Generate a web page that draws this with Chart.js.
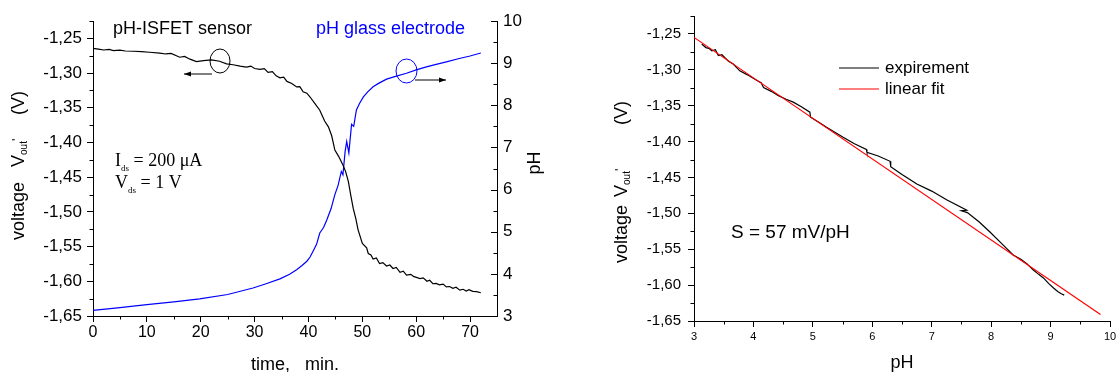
<!DOCTYPE html>
<html>
<head>
<meta charset="utf-8">
<script src="https://cdn.jsdelivr.net/npm/chart.js@4/dist/chart.umd.min.js"></script>
<style>
  body { margin: 0; background: #fff; width: 1116px; height: 372px; overflow: hidden; position: relative; }
  #timeChart { position: absolute; left: 0; top: 0; }
  #phChart { position: absolute; left: 556px; top: 0; }
</style>
</head>
<body>
<canvas id="timeChart" width="556" height="372"></canvas>
<canvas id="phChart" width="564" height="372"></canvas>
<script>
// --- data ---

// left panel: ISFET output voltage vs time
const isfetTime = [0, 1, 2, 3, 3.8, 5, 6, 7.5, 9, 10.5, 12.4, 13.5, 14.5, 16.1, 17, 18, 19.2, 20.5, 22, 23.5,
  24.8, 26, 27.3, 28.5, 29.3, 30, 31, 31.8, 32.5, 33.3, 34, 34.7, 35.4, 36, 36.9, 37.8, 38.4, 39, 39.7, 40.3,
  41.2, 42.1, 43, 43.7, 44.3, 44.9, 45.6, 46.4, 46.9, 47.4, 47.9, 48.3, 48.8, 49.2, 50.0, 50.8, 51.1,
  51.6, 52, 52.6, 53.2, 53.8, 54.5, 55.1, 55.7, 56.3, 57, 57.6, 58.2, 59, 59.5, 60.7, 61.3, 62, 62.5,
  63.1, 63.7, 64.3, 65, 65.6, 66.2, 66.8, 67.4, 68.1, 68.7, 69.3, 69.8, 70.5, 71.2, 72];
const isfetVolt = [-1.2643, -1.2655, -1.2668, -1.2660, -1.2676, -1.2670, -1.2682, -1.2686, -1.2692, -1.2700,
  -1.2712, -1.2725, -1.2718, -1.2772, -1.2760, -1.2800, -1.2834, -1.2820, -1.2810, -1.2830,
  -1.2867, -1.2880, -1.2900, -1.2915, -1.2900, -1.2935, -1.2948, -1.2935, -1.2990, -1.2980,
  -1.3040, -1.3068, -1.3060, -1.3120, -1.3150, -1.3200, -1.3195, -1.3270, -1.3290, -1.3345,
  -1.3440, -1.3536, -1.3690, -1.3775, -1.3900, -1.4110, -1.4200, -1.4325, -1.4420, -1.4560,
  -1.4780, -1.4946, -1.5100, -1.5255, -1.5455, -1.5517, -1.5600,
  -1.5620, -1.5680, -1.5665, -1.5743, -1.5730, -1.5780, -1.5765, -1.5815, -1.5800, -1.5870, -1.5855,
  -1.5910, -1.5900, -1.5930, -1.5960, -1.5950, -1.6000, -1.5985, -1.6035, -1.6030, -1.6050, -1.6040,
  -1.6080, -1.6075, -1.6100, -1.6085, -1.6127, -1.6115, -1.6140, -1.6120, -1.6145, -1.6150, -1.6165];

// left panel: glass electrode pH vs time
const glassTime = [0, 5, 10, 15, 19.8, 25, 29.7, 32, 34.7, 36.5, 37.8, 38.8, 39.7, 40.3, 40.9, 41.5, 42.1,
  42.8, 43.4, 44.2, 44.9, 45.5, 46.1, 46.4, 46.8, 47.1, 47.5, 48.0, 48.4, 48.9, 49.5, 50.2, 51, 52, 53,
  54.5, 56, 58.2, 60, 61.9, 63.7, 65.6, 68, 70, 72];
const glassPH = [3.135, 3.20, 3.27, 3.335, 3.405, 3.51, 3.665, 3.76, 3.88, 3.99, 4.10, 4.20, 4.30, 4.40,
  4.55, 4.70, 4.97, 5.10, 5.28, 5.55, 5.88, 6.10, 6.43, 6.35, 6.90, 7.14, 6.87, 7.55, 7.50, 7.89, 8.05,
  8.20, 8.32, 8.44, 8.52, 8.62, 8.68, 8.76, 8.84, 8.91, 8.97, 9.03, 9.11, 9.17, 9.24];

// right panel: voltage vs pH (experiment) and linear fit
const expPH = [3.13, 3.20, 3.25, 3.30, 3.36, 3.41, 3.47, 3.52, 3.58, 3.66, 3.77, 3.90, 4.06, 4.13, 4.17,
  4.30, 4.42, 4.55, 4.67, 4.80, 4.95, 4.96, 5.10, 5.23, 5.37, 5.51, 5.70, 5.90, 5.91, 6.10, 6.30, 6.31,
  6.50, 6.75, 7.00, 7.25, 7.59, 7.50, 7.60, 7.80, 7.98, 8.20, 8.37, 8.50, 8.60, 8.71, 8.80, 8.88, 8.97,
  9.05, 9.12, 9.18, 9.23];
const expVolt = [-1.2640, -1.2690, -1.2700, -1.2734, -1.2720, -1.2800, -1.2790, -1.2830, -1.2880, -1.2920,
  -1.3014, -1.3070, -1.3150, -1.3180, -1.3246, -1.3300, -1.3360, -1.3410, -1.3450, -1.3510, -1.3590,
  -1.3660, -1.3730, -1.3800, -1.3870, -1.3940, -1.4030, -1.4110, -1.4150, -1.4200, -1.4275, -1.4350,
  -1.4460, -1.4590, -1.4690, -1.4810, -1.4955, -1.4965, -1.4990, -1.5120, -1.5260, -1.5440, -1.5580,
  -1.5640, -1.5700, -1.5790, -1.5850, -1.5900, -1.5980, -1.6040, -1.6090, -1.6120, -1.6140];
const fitPH = [3, 9.84];
const fitVolt = [-1.2548, -1.6410];

// axis ticks
const timeTicks = [0, 10, 20, 30, 40, 50, 60, 70];
const voltTicks = [-1.65, -1.60, -1.55, -1.50, -1.45, -1.40, -1.35, -1.30, -1.25];
const phTicks = [3, 4, 5, 6, 7, 8, 9, 10];

const SANS = "'Liberation Sans', Arial, sans-serif";
const SERIF = "'Liberation Serif', 'Times New Roman', serif";

function points(xs, ys) {
  return xs.map((x, i) => ({ x: x, y: ys[i] }));
}
function commaLabel(v) {
  return v.toFixed(2).replace('.', ',');
}
function minorOf(majors, max) {
  const half = (majors[1] - majors[0]) / 2;
  return majors.map(m => m + half).filter(v => v <= max + 1e-9);
}

// extra tick marks the library can't do itself (minor ticks, inward ticks)
// dir 1 = outward, -1 = into the plot
function drawTicks(chart, list) {
  const ctx = chart.ctx;
  const area = chart.chartArea;
  ctx.save();
  ctx.strokeStyle = '#000';
  ctx.lineWidth = 1;
  ctx.beginPath();
  list.forEach(a => {
    const scale = chart.scales[a.id];
    a.values.forEach(v => {
      const p = Math.round(scale.getPixelForValue(v)) + 0.5;
      const len = a.len * a.dir;
      if (a.side === 'bottom') {
        ctx.moveTo(p, area.bottom);
        ctx.lineTo(p, area.bottom + len);
      } else if (a.side === 'left') {
        ctx.moveTo(area.left, p);
        ctx.lineTo(area.left - len, p);
      } else {
        ctx.moveTo(area.right, p);
        ctx.lineTo(area.right + len, p);
      }
    });
  });
  ctx.stroke();
  ctx.restore();
}

// text with subscript pieces, drawn left to right
function richText(ctx, x, y, parts) {
  let cx = x;
  for (const p of parts) {
    ctx.font = p.font;
    ctx.fillText(p.t, cx, y + (p.dy || 0));
    cx += ctx.measureText(p.t).width;
  }
}

function arrow(ctx, x1, x2, y) {
  ctx.beginPath();
  ctx.moveTo(x1, y);
  ctx.lineTo(x2, y);
  ctx.stroke();
  const d = x2 > x1 ? 1 : -1;
  ctx.beginPath();
  ctx.moveTo(x2, y);
  ctx.lineTo(x2 - 7 * d, y - 2.5);
  ctx.lineTo(x2 - 7 * d, y + 2.5);
  ctx.closePath();
  ctx.fill();
}

function voltageTitle(ctx, x, y, gapV, gapParen) {
  ctx.save();
  ctx.translate(x, y);
  ctx.rotate(-Math.PI / 2);
  ctx.fillStyle = '#000';
  ctx.textBaseline = 'middle';
  ctx.font = '18px ' + SANS;
  ctx.fillText('voltage', 0, 0);
  richText(ctx, gapV, 0, [
    { t: 'V', font: '18px ' + SANS },
    { t: 'out', font: '10px ' + SANS, dy: 5 },
    { t: "'", font: '13px ' + SANS, dy: -2 }
  ]);
  ctx.font = '18px ' + SANS;
  ctx.fillText('(V)', gapParen, 0);
  ctx.restore();
}

const timeNotes = {
  id: 'timeNotes',
  afterDraw(chart) {
    drawTicks(chart, [
      { id: 'x', side: 'bottom', values: minorOf(timeTicks, 70), len: 3.5, dir: 1 },
      { id: 'y', side: 'left', values: minorOf(voltTicks, -1.225), len: 3.5, dir: 1 },
      { id: 'y1', side: 'right', values: phTicks, len: 6, dir: -1 },
      { id: 'y1', side: 'right', values: minorOf(phTicks, 10), len: 3.5, dir: -1 }
    ]);

    const ctx = chart.ctx;
    ctx.save();
    ctx.textBaseline = 'middle';
    ctx.font = '18px ' + SANS;
    ctx.fillStyle = '#000';
    ctx.fillText('pH-ISFET sensor', 113, 29);
    ctx.fillStyle = '#0000ff';
    ctx.fillText('pH glass electrode', 316, 29);

    ctx.textBaseline = 'alphabetic';
    ctx.fillStyle = '#000';
    richText(ctx, 115, 166, [
      { t: 'I', font: '18px ' + SERIF },
      { t: 'ds', font: '9px ' + SERIF, dy: 5 },
      { t: ' = 200 \u03bcA', font: '18px ' + SERIF }
    ]);
    richText(ctx, 115, 188, [
      { t: 'V', font: '18px ' + SERIF },
      { t: 'ds', font: '9px ' + SERIF, dy: 5 },
      { t: ' = 1 V', font: '18px ' + SERIF }
    ]);

    ctx.lineWidth = 1;
    ctx.strokeStyle = '#000';
    ctx.beginPath();
    ctx.ellipse(220, 61, 10, 12, 0, 0, Math.PI * 2);
    ctx.stroke();
    arrow(ctx, 212, 184, 74);
    ctx.strokeStyle = '#0000ff';
    ctx.beginPath();
    ctx.ellipse(406.5, 71, 10.5, 12, 0, 0, Math.PI * 2);
    ctx.stroke();
    ctx.strokeStyle = '#000';
    arrow(ctx, 415, 446, 80);

    ctx.font = '18px ' + SANS;
    ctx.textAlign = 'center';
    ctx.fillText('time,   min.', 295, 370);
    ctx.restore();

    voltageTitle(ctx, 19, 240, 73, 125);

    ctx.save();
    ctx.translate(535, 163);
    ctx.rotate(-Math.PI / 2);
    ctx.textAlign = 'center';
    ctx.textBaseline = 'middle';
    ctx.font = '18px ' + SANS;
    ctx.fillStyle = '#000';
    ctx.fillText('pH', 0, 0);
    ctx.restore();
  }
};

const phNotes = {
  id: 'phNotes',
  afterDraw(chart) {
    drawTicks(chart, [
      { id: 'x', side: 'bottom', values: minorOf(phTicks, 10), len: 3.5, dir: 1 },
      { id: 'y', side: 'left', values: minorOf(voltTicks, -1.225), len: 3.5, dir: 1 }
    ]);

    const ctx = chart.ctx;
    ctx.save();
    ctx.lineWidth = 1.2;
    ctx.strokeStyle = '#000';
    ctx.beginPath(); ctx.moveTo(283, 68); ctx.lineTo(323, 68); ctx.stroke();
    ctx.strokeStyle = '#ff0000';
    ctx.beginPath(); ctx.moveTo(283, 89); ctx.lineTo(323, 89); ctx.stroke();
    ctx.fillStyle = '#000';
    ctx.textBaseline = 'middle';
    ctx.font = '17px ' + SANS;
    ctx.fillText('expirement', 329, 68);
    ctx.fillText('linear fit', 329, 89);
    ctx.font = '19px ' + SANS;
    ctx.fillText('S = 57 mV/pH', 175, 233);
    ctx.font = '18px ' + SANS;
    ctx.textAlign = 'center';
    ctx.textBaseline = 'alphabetic';
    ctx.fillText('pH', 346, 368);
    ctx.restore();

    voltageTitle(ctx, 66, 263, 66, 138);
  }
};

// major ticks come from the library (grid drawn only outside the plot area)
function linearAxis(opts) {
  return {
    type: 'linear',
    position: opts.position,
    min: opts.min,
    max: opts.max,
    grid: opts.inward
      ? { display: false, drawTicks: false }
      : { display: true, drawOnChartArea: false, drawTicks: true, tickLength: 6, color: '#000', tickColor: '#000', lineWidth: 1 },
    border: { display: true, color: '#000', width: 1 },
    afterBuildTicks: s => { s.ticks = opts.ticks.map(v => ({ value: v })); },
    afterFit: s => { if (opts.width) s.width = opts.width; if (opts.height) s.height = opts.height; },
    ticks: {
      color: '#000',
      padding: opts.padding,
      maxRotation: 0,
      autoSkip: false,
      font: { family: SANS, size: opts.size },
      callback: opts.format || (v => String(v))
    }
  };
}

new Chart(document.getElementById('timeChart'), {
  type: 'scatter',
  data: {
    datasets: [
      { data: points(isfetTime, isfetVolt), yAxisID: 'y', borderColor: '#000', borderWidth: 1.2 },
      { data: points(glassTime, glassPH), yAxisID: 'y1', borderColor: '#0000ff', borderWidth: 1.2 }
    ]
  },
  options: {
    responsive: false,
    animation: false,
    devicePixelRatio: 1,
    showLine: true,
    elements: { point: { radius: 0 }, line: { tension: 0 } },
    layout: { padding: { top: 21, left: 0, right: 0, bottom: 0 } },
    plugins: { legend: { display: false }, tooltip: { enabled: false } },
    scales: {
      x: linearAxis({ position: 'bottom', min: 0, max: 75, ticks: timeTicks, size: 16, padding: 1, height: 56 }),
      y: linearAxis({ position: 'left', min: -1.65, max: -1.225, ticks: voltTicks, size: 17, padding: 5, width: 93, format: commaLabel }),
      y1: linearAxis({ position: 'right', min: 3, max: 10, ticks: phTicks, size: 17, padding: 6, width: 59, inward: true })
    }
  },
  plugins: [timeNotes]
});

new Chart(document.getElementById('phChart'), {
  type: 'scatter',
  data: {
    datasets: [
      { data: points(fitPH, fitVolt), borderColor: '#ff0000', borderWidth: 1.2 },
      { data: points(expPH, expVolt), borderColor: '#000', borderWidth: 1.2 }
    ]
  },
  options: {
    responsive: false,
    animation: false,
    devicePixelRatio: 1,
    showLine: true,
    elements: { point: { radius: 0 }, line: { tension: 0 } },
    layout: { padding: { top: 15, left: 0, right: 10, bottom: 0 } },
    plugins: { legend: { display: false }, tooltip: { enabled: false } },
    scales: {
      x: linearAxis({ position: 'bottom', min: 3, max: 10, ticks: phTicks, size: 11, padding: 3, height: 51 }),
      y: linearAxis({ position: 'left', min: -1.65, max: -1.225, ticks: voltTicks, size: 15, padding: 7, width: 138, format: commaLabel })
    }
  },
  plugins: [phNotes]
});
</script>
</body>
</html>
